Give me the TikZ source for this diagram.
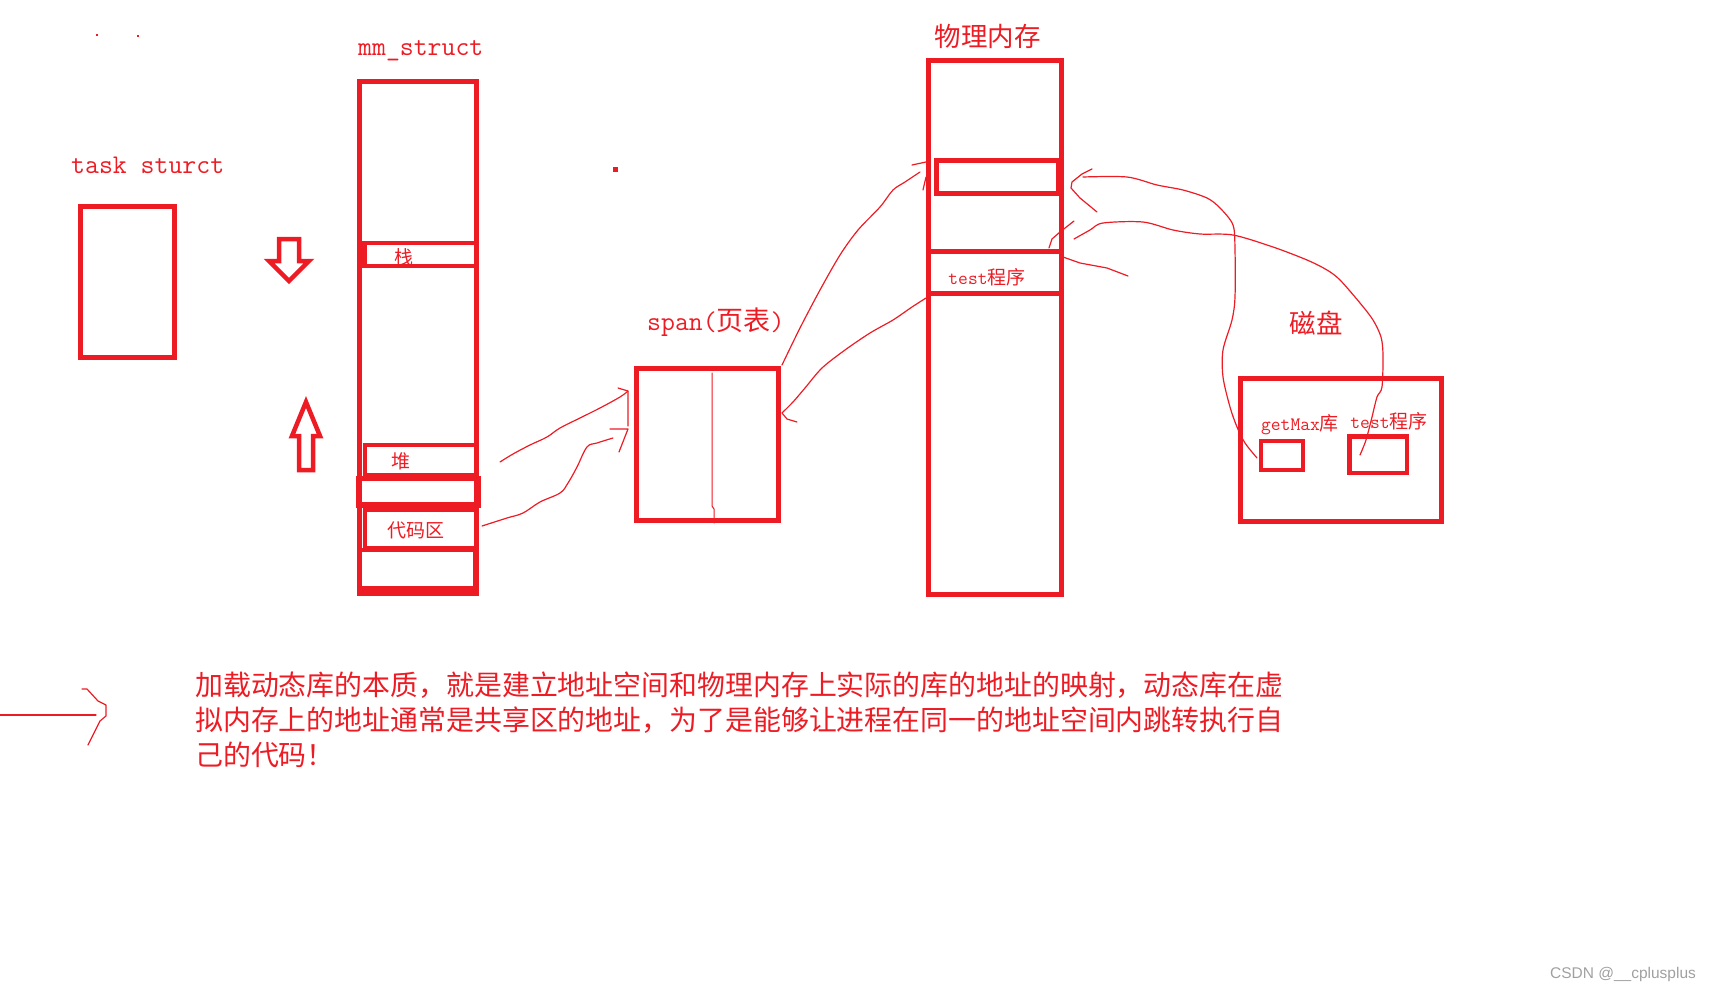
\documentclass[tikz,border=0pt]{standalone}
\usepackage{fontspec}
\setsansfont{Liberation Sans}
\newfontfamily\cjk{Noto Sans CJK SC}
\usetikzlibrary{positioning}
\definecolor{pred}{HTML}{ED1C24}
\definecolor{mark}{HTML}{A0A0A0}

\begin{document}
\begin{tikzpicture}[x=1pt,y=-1pt,
  box/.style={draw=pred,line width=5pt,inner sep=0pt},
  cell/.style={draw=pred,line width=4.5pt,inner sep=0pt},
  pen/.style={draw=pred,line width=1.2pt,line join=round,line cap=round},
  mono/.style={text=pred,inner sep=0pt,font=\fontsize{27}{27}\selectfont\ttfamily},
  han/.style={text=pred,inner sep=0pt,font=\fontsize{26.5}{26.5}\selectfont\cjk},
  tag/.style={text=pred,inner sep=0pt,font=\fontsize{19}{19}\selectfont\cjk}]

\useasboundingbox (0,0) rectangle (1714,993);

% task struct
\node[box,minimum width=94,minimum height=151] (task) at (127,281.5) {};
\node[mono,anchor=base west] (tasklbl) at (71,173) {task sturct};
\fill[pred] (96,34) rectangle (98,36);
\fill[pred] (137,35) rectangle (139,37);

% stack grows down, heap grows up
\draw[pred,line width=4.5pt] (279,239) -- (299,239) -- (299,261) -- (309,261) -- (289,281) -- (269,261) -- (279,261) -- cycle;
\draw[pred,line width=4.5pt] (306,402) -- (320,436) -- (313,436) -- (313,470) -- (299,470) -- (299,436) -- (292,436) -- cycle;

% mm_struct
\node[box,minimum width=117,minimum height=512] (mm) at (418,337.5) {};
\node[mono,anchor=base west] (mmlbl) at (358,55) {mm\_struct};
\node[cell,minimum width=112,minimum height=23] (stack) at (420.5,254.5) {};
\node[tag] (stacklbl) at (404,257) {栈};
\node[cell,minimum width=111,minimum height=30] (heap) at (420.5,460) {};
\node[tag] (heaplbl) at (401,461) {堆};
\node[box,line width=5.5pt,minimum width=119,minimum height=26.5] (shared) at (418.5,491.75) {};
\node[cell,minimum width=111,minimum height=38.5] (code) at (420.5,529.25) {};
\node[tag] (codelbl) at (416,530) {代码区};
\node[cell,minimum width=115.5,minimum height=38.5] (rest) at (417.5,569) {};

\fill[pred] (613,167) rectangle (618,172);

% page table
\node[box,minimum width=142,minimum height=152] (span) at (707.5,444) {};
\node[mono,anchor=base west] (spanlbl) at (647,330) {span({\cjk 页表})};
\draw[pen,line width=1pt] (712,373) -- (712,506) -- (714,509) -- (714,523);

% physical memory
\node[box,minimum width=133,minimum height=534] (phys) at (995,327.5) {};
\node[han] (physlbl) at (987.5,36) {物理内存};
\node[box,minimum width=121.5,minimum height=33] (lib) at (997.25,177) {};
\node[box,minimum width=133,minimum height=42] (prog) at (995,272.5) {};
\node[tag] (proglbl) at (987,277) {{\ttfamily test}程序};

% disk
\node[box,minimum width=201,minimum height=143] (disk) at (1341,450) {};
\node[han] (disklbl) at (1316,323) {磁盘};
\node[cell,line width=4pt,minimum width=42,minimum height=29] (getmax) at (1282,455.5) {};
\node[cell,minimum width=57.5,minimum height=36.5] (diskprog) at (1378,454.5) {};
\node[tag] (getmaxlbl) at (1300,425) {{\ttfamily getMax}库};
\node[tag] (diskproglbl) at (1389,421) {{\ttfamily test}程序};

% heap -> span
\coordinate (h0) at (500,462);
\coordinate (h1) at (628,391);
\draw[pen] plot[smooth,tension=0.6] coordinates {(h0) (513,454) (530,445) (547,437) (560,428) (580,418) (600,408) (620,397) (h1)};
\draw[pen] (618,388) -- (h1) -- (628,426);

% code -> span
\coordinate (c0) at (482,526);
\coordinate (c1) at (613,438);
\draw[pen] plot[smooth,tension=0.6] coordinates {(c0) (507,518) (523,513) (540,502) (560,493) (568,483) (577,467) (587,447) (597,443) (c1)};
\draw[pen] (610,429) -- (628,429) -- (619,452);

% span -> lib
\coordinate (s0) at (782,365);
\coordinate (s1) at (920,172);
\draw[pen] plot[smooth] coordinates {(s0) (800,328) (820,290) (840,255) (858,230) (880,207) (893,190) (905,182) (s1)};
\draw[pen] (912,165) -- (926,162);
\draw[pen] (926,177) -- (923,190);

% prog -> span
\coordinate (p0) at (926,298);
\coordinate (p1) at (782,413);
\draw[pen] plot[smooth] coordinates {(p0) (912,307) (893,320) (870,333) (845,350) (822,368) (805,388) (793,402) (p1)};
\draw[pen] (p1) -- (787,419) -- (797,422);

% getMax -> lib
\coordinate (g0) at (1257,458);
\coordinate (g1) at (1083,177);
\draw[pen] plot[smooth] coordinates {(g1) (1127,177) (1157,185) (1183,190) (1207,198) (1220,208) (1233,225) (1235,250) (1235,297) (1232,320) (1223,350) (1223,377) (1230,407) (1237,427) (1245,443) (g0)};
\draw[pen] (1092,169) -- (1082,174) -- (1072,182) -- (1071,188) -- (1080,198) -- (1097,212);

% disk test -> prog
\coordinate (t0) at (1360,455);
\coordinate (t1) at (1074,239);
\draw[pen] plot[smooth] coordinates {(t1) (1090,230) (1103,223) (1143,222) (1173,230) (1200,234) (1233,235) (1273,247) (1307,260) (1327,270) (1340,280) (1360,303) (1373,320) (1381,337) (1383,355) (1382,387) (1377,397) (1372,417) (1366,440) (t0)};
\draw[pen] (1074,221) -- (1060,232) -- (1052,239) -- (1049,248);
\draw[pen] (1063,257) -- (1080,263) -- (1107,268) -- (1128,276);

% note
\coordinate (a0) at (0,715);
\coordinate (a1) at (96,715);
\draw[pen] (a0) -- (a1);
\draw[pen] (82,689) -- (87,689) -- (98,701) -- (106,705) -- (106,716) -- (100,721) -- (88,745);
\node[text=pred,inner sep=0pt,anchor=north west,align=left,font=\fontsize{27.9}{35}\selectfont\cjk] (note) at (195,672)
  {加载动态库的本质，就是建立地址空间和物理内存上实际的库的地址的映射，动态库在虚\\
   拟内存上的地址通常是共享区的地址，为了是能够让进程在同一的地址空间内跳转执行自\\
   己的代码！};

\node[text=mark,inner sep=0pt,font=\fontsize{15.5}{15.5}\selectfont\sffamily] (csdn) at (1623,974) {CSDN @\_\_cplusplus};
\end{tikzpicture}
\end{document}
